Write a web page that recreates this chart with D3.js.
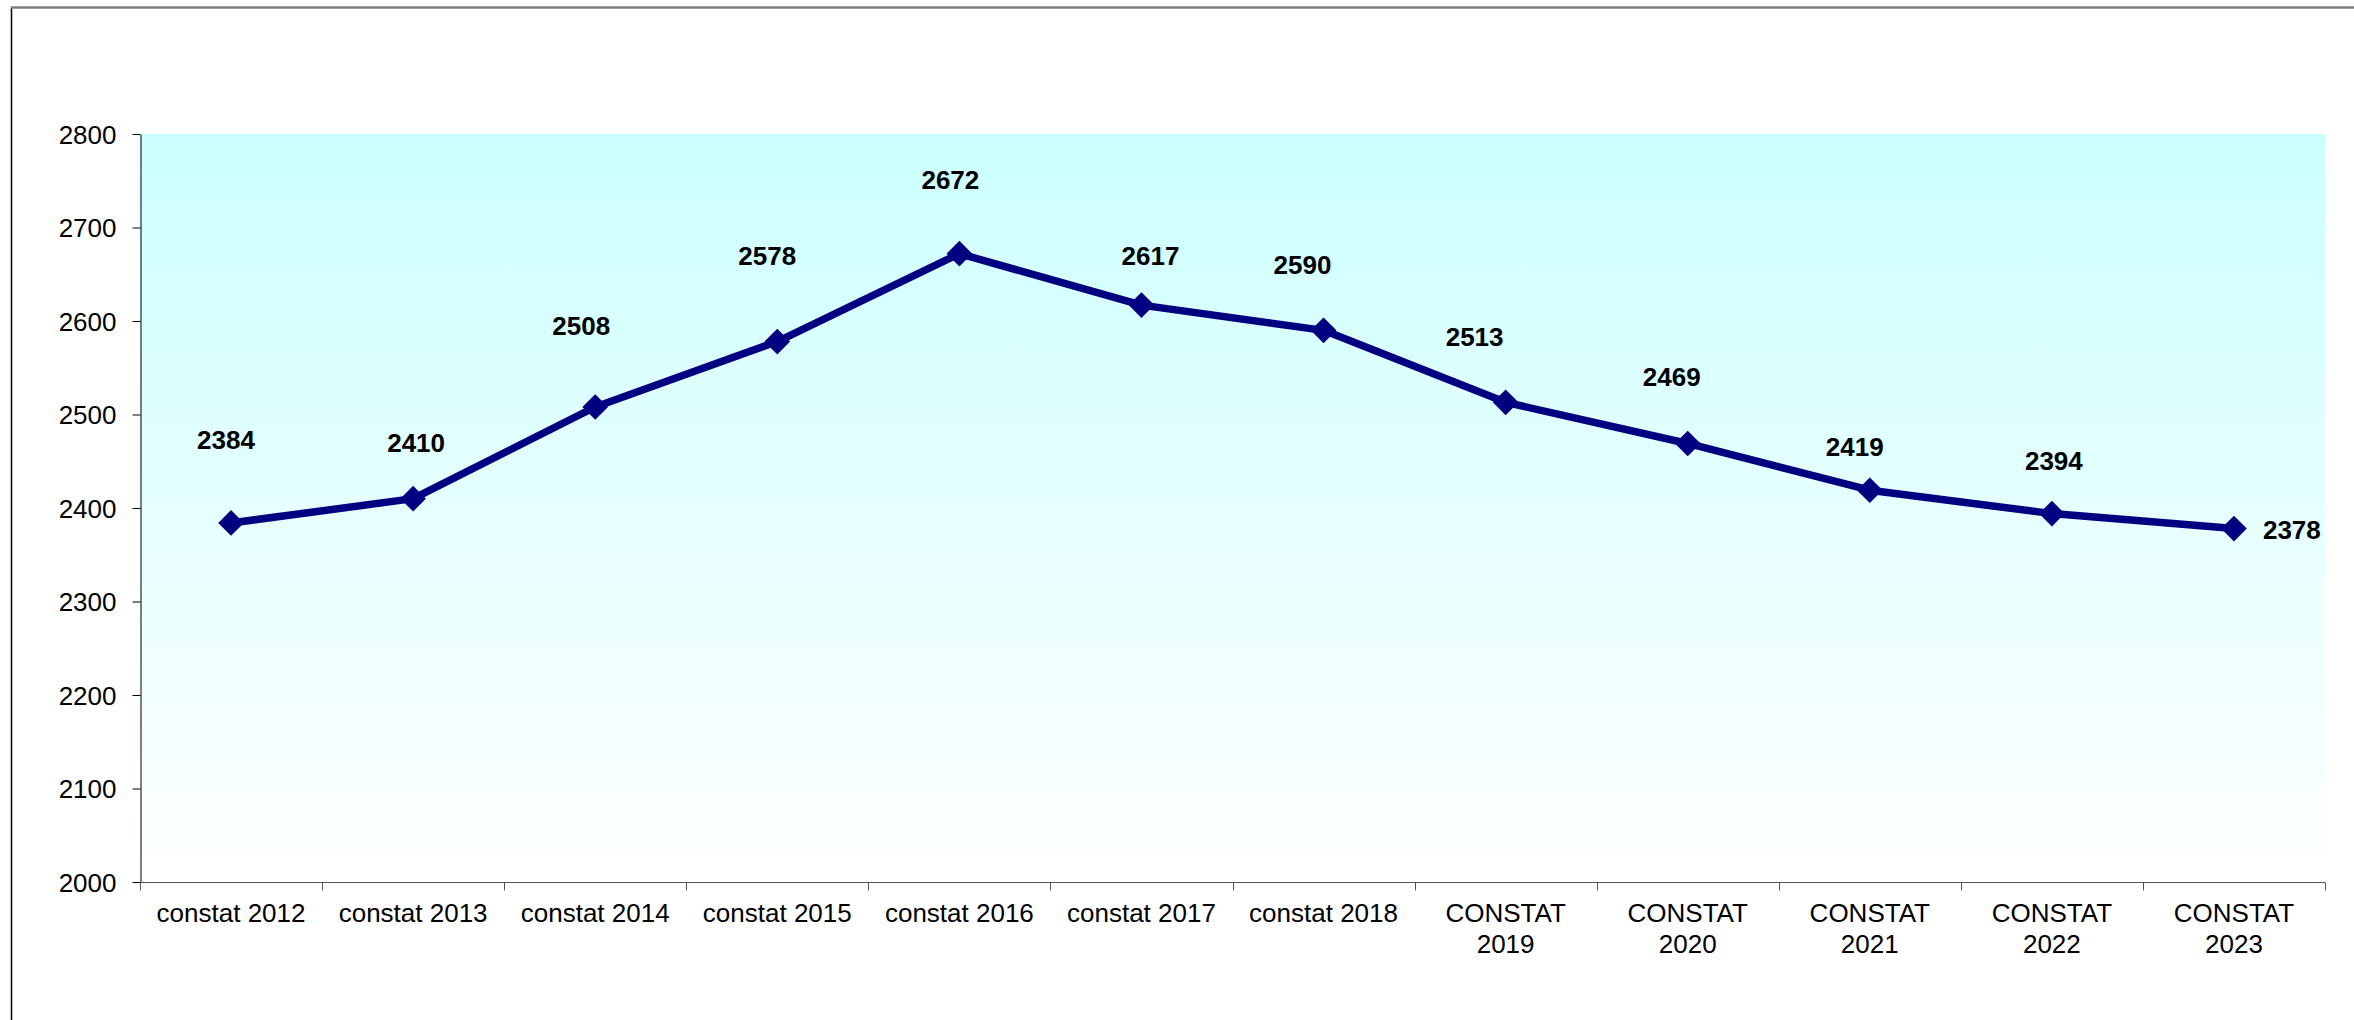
<!DOCTYPE html>
<html>
<head>
<meta charset="utf-8">
<script src="https://cdn.jsdelivr.net/npm/d3@7"></script>
<style>
  body { margin: 0; background: #fff; }
  svg { display: block; font-family: Arial, "Liberation Sans", sans-serif; }
</style>
</head>
<body>
<svg width="2354" height="1020"></svg>
<script>
// data
var categories = ["constat 2012", "constat 2013", "constat 2014", "constat 2015", "constat 2016", "constat 2017",
  "constat 2018", "CONSTAT 2019", "CONSTAT 2020", "CONSTAT 2021", "CONSTAT 2022", "CONSTAT 2023"];
var values = [2384, 2410, 2508, 2578, 2672, 2617, 2590, 2513, 2469, 2419, 2394, 2378];
var yTicks = [2000, 2100, 2200, 2300, 2400, 2500, 2600, 2700, 2800];

// label placement (hand-moved in the original, so offsets per point)
var labelDx = [-5, 3, -14, -10, -9, 9, -21, -31, -16, -15, 2, 29];
var labelDy = [-83, -56, -81, -86, -74, -49, -66, -66, -67, -44, -53, 1];

var svg = d3.select("svg");
var width = +svg.attr("width");
var height = +svg.attr("height");

var plot = {left: 140, right: 2325, top: 134, bottom: 882};

var x = d3.scaleBand().domain(categories).range([plot.left, plot.right]).padding(0);
var y = d3.scaleLinear().domain([2000, 2800]).range([plot.bottom, plot.top]);

// gradient for the plot area
var defs = svg.append("defs");
var grad = defs.append("linearGradient")
  .attr("id", "bg")
  .attr("x1", 0).attr("y1", 0).attr("x2", 0).attr("y2", 1);
grad.append("stop").attr("offset", "0%").attr("stop-color", "#ccffff");
grad.append("stop").attr("offset", "100%").attr("stop-color", "#ffffff");

// outer frame (only left + top are inside the picture)
svg.append("line")
  .attr("x1", 11.5).attr("y1", 7.5).attr("x2", 11.5).attr("y2", height + 5)
  .attr("stroke", "#000").attr("stroke-width", 1.5);
svg.append("line")
  .attr("x1", 11).attr("y1", 7.5).attr("x2", width + 5).attr("y2", 7.5)
  .attr("stroke", "#808080").attr("stroke-width", 2.5);

svg.append("rect")
  .attr("x", plot.left).attr("y", plot.top)
  .attr("width", plot.right - plot.left)
  .attr("height", plot.bottom - plot.top)
  .attr("fill", "url(#bg)");

// y axis
var yAxis = svg.append("g")
  .attr("transform", "translate(" + (plot.left + 0.5) + ",0)")
  .call(d3.axisLeft(y).tickValues(yTicks).tickFormat(d3.format("d"))
    .tickSize(8).tickPadding(16).tickSizeOuter(0));
yAxis.select(".domain").attr("stroke", "#000");
yAxis.selectAll(".tick line").attr("stroke", "#000");
yAxis.selectAll(".tick text")
  .attr("font-size", 26)
  .attr("font-family", "Arial, 'Liberation Sans', sans-serif")
  .attr("fill", "#000")
  .attr("dy", "0.36em");

// x axis line + boundary ticks
var xAxisG = svg.append("g").attr("transform", "translate(0," + (plot.bottom + 0.5) + ")");
xAxisG.append("line")
  .attr("x1", plot.left).attr("x2", plot.right)
  .attr("stroke", "#555");
var bounds = categories.map(function(c) { return x(c); }).concat([x.range()[1]]);
xAxisG.selectAll(".btick")
  .data(bounds)
  .enter()
  .append("line")
  .attr("class", "btick")
  .attr("x1", function(d) { return Math.round(d) + 0.5; })
  .attr("x2", function(d) { return Math.round(d) + 0.5; })
  .attr("y1", 0).attr("y2", 8)
  .attr("stroke", "#555");

// x labels, wrapped when wider than a category
var xLabels = svg.append("g")
  .attr("transform", "translate(0," + plot.bottom + ")")
  .call(d3.axisBottom(x).tickSize(0).tickPadding(22));
xLabels.select(".domain").remove();
xLabels.selectAll(".tick text")
  .attr("font-size", 26)
  .attr("font-family", "Arial, 'Liberation Sans', sans-serif")
  .attr("fill", "#000")
  .each(function(d) {
    var t = d3.select(this);
    if (this.getComputedTextLength() > x.bandwidth() - 6) {
      var words = d.split(" ");
      t.text(null);
      t.append("tspan").attr("x", 0).text(words[0]);
      t.append("tspan").attr("x", 0).attr("dy", 31).text(words.slice(1).join(" "));
    }
  });

// series line
var cx = function(i) { return x(categories[i]) + x.bandwidth() / 2; };
var line = d3.line()
  .x(function(d, i) { return cx(i); })
  .y(function(d) { return y(d); });

svg.append("path")
  .datum(values)
  .attr("d", line)
  .attr("fill", "none")
  .attr("stroke", "#000080")
  .attr("stroke-width", 7.5)
  .attr("stroke-linejoin", "round");

// diamond markers
svg.append("g")
  .selectAll("path")
  .data(values)
  .enter()
  .append("path")
  .attr("d", d3.symbol().type(d3.symbolSquare).size(330))
  .attr("transform", function(d, i) { return "translate(" + cx(i) + "," + y(d) + ") rotate(45)"; })
  .attr("fill", "#000080");

// data labels
svg.append("g")
  .selectAll("text")
  .data(values)
  .enter()
  .append("text")
  .attr("x", function(d, i) { return cx(i) + labelDx[i]; })
  .attr("y", function(d, i) { return y(d) + labelDy[i]; })
  .attr("dy", "0.36em")
  .attr("text-anchor", function(d, i) { return i === values.length - 1 ? "start" : "middle"; })
  .attr("font-size", 26)
  .attr("font-weight", "bold")
  .attr("fill", "#000")
  .text(function(d) { return d; });
</script>
</body>
</html>
